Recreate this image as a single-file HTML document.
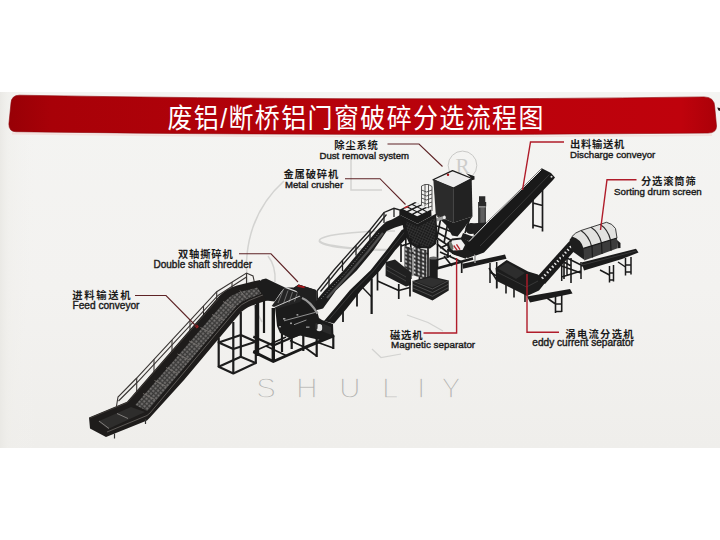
<!DOCTYPE html>
<html lang="zh">
<head>
<meta charset="utf-8">
<title>废铝/断桥铝门窗破碎分选流程图</title>
<style>
html,body{margin:0;padding:0;background:#fff;}
body{width:720px;height:540px;overflow:hidden;position:relative;font-family:"Liberation Sans","Noto Sans CJK SC",sans-serif;}
svg{position:absolute;left:0;top:0;display:block;}
.cn{font-family:"Liberation Sans","Noto Sans CJK SC",sans-serif;font-weight:700;font-size:10.3px;fill:#1a1a1a;letter-spacing:0.8px;}
.en{font-family:"Liberation Sans","Noto Sans CJK SC",sans-serif;font-size:9.6px;fill:#1c1c1c;stroke:#1c1c1c;stroke-width:0.4px;}
.ttl{font-family:"Liberation Sans","Noto Sans CJK SC",sans-serif;font-weight:400;font-size:25px;fill:#fff;}
.wm{font-family:"Liberation Sans",sans-serif;font-size:30px;fill:#b4b4b2;stroke:#f1f0ed;stroke-width:1.35px;font-weight:400;}
.ld{fill:none;stroke:#5e2326;stroke-width:1.1;}
.ldr{fill:none;stroke:#b01c2a;stroke-width:1.4;}
</style>
</head>
<body>
<svg id="art" width="720" height="540" viewBox="0 0 720 540">
<defs>
<linearGradient id="bg" x1="0" y1="0" x2="0" y2="1">
<stop offset="0" stop-color="#f4f4f2"/><stop offset="0.55" stop-color="#f3f2f0"/><stop offset="1" stop-color="#efeeeb"/>
</linearGradient>
<linearGradient id="bgl" x1="0" y1="0" x2="1" y2="0">
<stop offset="0" stop-color="#e9e8e4" stop-opacity="0.9"/><stop offset="0.012" stop-color="#efeeea" stop-opacity="0.5"/><stop offset="0.05" stop-color="#f3f2f0" stop-opacity="0"/><stop offset="1" stop-color="#f3f2f0" stop-opacity="0"/>
</linearGradient>
<linearGradient id="red" x1="0" y1="0" x2="1" y2="0">
<stop offset="0" stop-color="#980006"/><stop offset="0.06" stop-color="#a80108"/><stop offset="0.5" stop-color="#b7020b"/><stop offset="0.95" stop-color="#bf020c"/><stop offset="1" stop-color="#ab0109"/>
</linearGradient>
<pattern id="mesh" width="3" height="3" patternUnits="userSpaceOnUse" patternTransform="rotate(41) scale(1.15)">
<rect x="0.3" y="0.3" width="1.7" height="1.7" fill="#7b7977"/>
</pattern>
<pattern id="mesh2" width="2.6" height="2.6" patternUnits="userSpaceOnUse" patternTransform="rotate(25)">
<rect x="0" y="0" width="2.6" height="0.6" fill="#4f4f4f"/><rect x="0" y="0" width="0.6" height="2.6" fill="#4f4f4f"/>
</pattern>
<pattern id="cage" width="4.3" height="4" patternUnits="userSpaceOnUse" patternTransform="skewY(20)">
<rect x="0.6" y="0.6" width="2.2" height="2" fill="#e6e6e6"/>
</pattern>
</defs>
<!-- photo background -->
<rect x="0" y="92" width="720" height="356" fill="url(#bg)"/>
<rect x="0" y="92" width="720" height="356" fill="url(#bgl)"/>
<!-- BANNER -->
<g id="banner">
<path d="M11,103 Q11.500,95.100 19.500,95.200 Q380,101.500 704,96.900 Q714.500,97 714.700,107 L716.500,126 Q716.700,133 708,133.100 Q360,136.500 16,131.800 Q8.800,131.500 8.900,124 Z" fill="url(#red)" stroke="#8d0207" stroke-width="0.6"/>
<path d="M12,132.500 Q360,138 712,134.200 L712,136 Q360,139.500 12,134.500 Z" fill="#f3d9d6" opacity="0.7"/>
<path d="M717.300,107.500 L720,108 L720,111 L718.200,110.300 Z" fill="#2a1a1a"/>
<text class="ttl" x="167.5" y="128.4" transform="matrix(1 0 0 1.07 0 -8.988)" style="letter-spacing:1.37px">废铝/断桥铝门窗破碎分选流程图</text>
</g>
<!-- WATERMARK -->
<g id="wm">
<g fill="none" stroke="#d3d3d1" stroke-width="1.5">
<path d="M284,181 A113,113 0 0 0 262,322"/>
<path d="M351,155 V190 H382"/>
<path d="M395,231 A76,9.500 0 0 0 319.500,241" stroke-width="1.600"/>
<path d="M319.500,241 A76,9.500 0 0 0 395,250" stroke-width="2.400"/>
<path d="M268,256 Q276,266 275,282"/>
<path d="M372,349 L381,357.500 L401,354" stroke-width="1.2"/>
<path d="M407,315 L428,322.500 L443,331" stroke-width="1.2"/>
<circle cx="462.5" cy="165.400" r="14.300" stroke="#c9c9c7" stroke-width="1"/>
</g>
<text x="455.500" y="172.500" style="font-family:'Liberation Serif',serif;font-size:21px;fill:#cdcdcb">R</text>
<text class="wm" x="256" y="397.5">S</text><text class="wm" x="296" y="397.5">H</text><text class="wm" x="339" y="397.5">U</text><text class="wm" x="382" y="397.5">L</text><text class="wm" x="417" y="397.5">I</text><text class="wm" x="441" y="397.5">Y</text>
</g>
<!-- MACHINES -->
<g id="machines">
<!-- FEED CONVEYOR -->
<g id="feed">
<!-- support tower (behind) -->
<g fill="none" stroke="#1d1d1d" stroke-width="2.2" stroke-linejoin="round">
<path d="M218.7,338 V367 M233.3,322 V374 M240.8,312 V357 M255.8,305 V363.5"/>
<path d="M218.7,342.5 L233.3,349 L255.8,341.7 L240.8,335 Z"/>
<path d="M218.7,366.7 L233.3,373.5 L255.8,363 L240.8,356.7 Z"/>
</g>
<!-- handrail -->
<g fill="none" stroke="#3a3634" stroke-width="1.1">
<path d="M116.5,406 L118,397 L136.7,378 L216.7,291.7 L246.5,273 L253,276 L255,285"/>
<path d="M118.5,401 L138,381.5 L218,295.5 L246.5,277"/>
<path d="M136.7,378 V392 M154,359.5 V373.5 M172,340 V354 M190,320.5 V334 M203.5,306 V318 M216.7,291.7 V301 M232,282 V289.5 M246.5,273 V284"/>
</g>
<!-- body silhouette -->
<path d="M89,417.5 L127,401.7 L218.700,296.5 Q227,288.5 237,285.5 L253,281.5 L260,280 L267,288 L268.500,300 L252,305.500 Q243.500,309 239.500,314 L184,380 L150,417.5 L147,420.5 L106,437 L90,428.5 Z" fill="#1e1c1b"/>
<!-- bed (mesh) -->
<path transform="translate(1.3,1.1)" d="M134,404 L223.5,300.5 Q230,293.5 240,290.5 L256,286.5 L260,292.5 L246,298 Q238,301.5 233,307.5 L146,410 Z" fill="#3b3a39"/>
<path transform="translate(1.3,1.1)" d="M134,404 L223.5,300.5 Q230,293.5 240,290.5 L256,286.5 L260,292.5 L246,298 Q238,301.5 233,307.5 L146,410 Z" fill="url(#mesh)"/>
<!-- foot bed -->
<path d="M98,421.5 L131,407 L145,412 L108,429 Z" fill="#2e2d2c"/>
<!-- cleats -->
<g stroke="#77736f" stroke-width="0.9" fill="none">
<path d="M143,393.5 L155,399.5 M154.5,380.5 L166.5,386.5 M166,367.5 L178,373.5 M177.5,354 L189.5,360 M189,341 L201,347 M200.5,327.5 L212.5,333.5 M212,314.5 L224,320.5 M223,301.5 L235,308 M240,290.5 L246,298"/>
<path d="M117,413.5 L128,418.5 M99,421 L109,428.5" stroke="#8a8784"/>
</g>
<!-- near wall highlight -->
<path d="M107,432 L147,415.5 L150,413 L236,310 Q241,304 249,300.5 L264,294.5" fill="none" stroke="#6b6763" stroke-width="0.8"/>
<path d="M90,418 L127.500,402.5 L219.500,297.5" fill="none" stroke="#4a4541" stroke-width="0.7"/>
<rect id="feedmark" x="195.500" y="325" width="2.800" height="2.800" fill="#a3181c" transform="rotate(-40 197 326.500)"/>
<!-- feet -->
<path d="M145.5,419 V424 M114.5,433.5 V438.5" stroke="#333" stroke-width="1.2"/>
<!-- chute to shredder -->
<path d="M257.500,285.500 L261.700,279.500 L266,278.500 L285,287.500 L281,292 L274.500,301.500 L266,300.500 Z" fill="#1c1c1c"/>
</g>

<!-- SHREDDER -->
<g id="shredder">
<!-- base frame -->
<g fill="none" stroke="#191919" stroke-linejoin="round">
<path stroke-width="3.4" d="M257.5,303 V356 M273.3,308 V361"/>
<path stroke-width="2.2" d="M264,301 V333 M291.7,331 V349 M303.3,333 V351 M316.7,336 V357 M333.3,335 V349 M282,333 V352"/>
<path stroke-width="3" d="M253.3,351.7 L273.3,361.5 L305,347.5 L334,335.5"/>
<path stroke-width="2.4" d="M253.3,336.7 L273.3,345.5 L305,332"/>
<path stroke-width="1.8" d="M253.3,351.7 L286,337 M286,355.5 L266,346 M305,347.5 L290,340.5 M316.7,356 L305,347.5 M316.7,342 L333.3,348"/>
</g>
<!-- body -->
<path d="M275,307 L285,287.500 L294,287.400 L298.700,284.500 L316,290 L317,311 L319,318 L322,320 L333,324 L333.5,337 L322,340.5 L300,335.5 L290,338.5 L280,333 L277,326 L276,316 Z" fill="#1b1b1b"/>
<path d="M271.7,306 L285,287.500 L305,294.300 L300,302 L278,308.5 Z" fill="#242424"/>
<!-- hopper streaks -->
<g stroke="#8d8d8d" stroke-width="0.7" fill="none">
<path d="M283.5,289 L278,303 M288,290.5 L283.5,303.5 M292.5,292 L289,302.5 M297,293.5 L294.5,301.5"/>
<path d="M274,307.400 L303,294.700" stroke="#c9c9c9" stroke-width="1"/>
<path d="M285.300,287.400 L303,294" stroke="#d5d5d5" stroke-width="1.300"/>
</g>
<!-- back box -->
<path d="M294,287.400 L298.700,284.500 L316,290 L317,312 L305,303 Z" fill="#202020"/>
<path d="M298,284.8 L305,286.4 L304.3,288.3 L297.3,286.7 Z" fill="#a3181c"/>
<!-- duct -->
<path d="M302,298 Q310,301 317.600,313.600" fill="none" stroke="#9a9a9a" stroke-width="2.4"/>
<!-- inner light details -->
<g fill="#9a9a9a">
<rect x="283" y="318" width="2.4" height="1.6"/><rect x="290" y="322.5" width="2" height="1.6"/><rect x="296.5" y="314" width="1.8" height="1.6"/>
<rect x="279" y="326" width="2" height="1.4"/><rect x="306" y="326.5" width="3.5" height="1.3"/>
</g>
<path d="M284,320.800 L315.300,312.400 M294,324.700 L306.400,320" fill="none" stroke="#b0b0b0" stroke-width="0.8"/>
<!-- motor -->
<ellipse cx="319.3" cy="327.6" rx="3.3" ry="3.6" fill="#e2e2e2"/>
<path d="M322,323.2 L331,327 L331.5,335 L322.5,331.6 Z" fill="#2a2a2a"/>
<ellipse cx="316.4" cy="326.4" rx="1.2" ry="3.3" fill="#2b2b2b"/>
</g>

<!-- SECOND CONVEYOR (shredder -> crusher) -->
<g id="conv2">
<!-- legs of lower beam -->
<g fill="none" stroke="#1b1b1b" stroke-width="1.8">
<path d="M357,291 V306.500 M371.700,279 V314 M343,309 V322"/>
<path d="M362,287 L371.700,297" stroke-width="1.400"/>
</g>
<!-- handrail -->
<g fill="none" stroke="#222" stroke-width="1.300">
<path d="M317.500,299 L317,291 L334,270 L351.700,250 L370,230 L384,212.500 L394,208.300 L400,210 L400,216"/>
<path d="M320.500,291.500 L337.500,270.500 L355,250.500 L373.300,230.500 L386.500,214.500"/>
<path d="M317,291 V300 M329,276.500 V287 M342.500,260.500 V271 M356,245.500 V255.500 M370,230 V240 M384,212.500 V223 M394,208.300 V217"/>
</g>
<!-- upper band -->
<path d="M315,302 L325,290 L344,270 L360.800,250 L377.500,230 L386,221.700 L392,219.500 L400,215 L406,224 L395,227.500 L386.700,231 L373.300,250.500 L356.700,270.500 L336,290.500 L323,308.500 L317,310 Z" fill="#1c1c1c"/>
<path d="M321,299 L345.500,273 L362,253 L379,233" fill="none" stroke="#8a8a8a" stroke-width="0.9" stroke-dasharray="1 1.800"/>
<path d="M327,298 L351,271.500 L368,251.500 L383,233" fill="none" stroke="#4c4c4c" stroke-width="2.200"/>
<!-- lower beam -->
<path d="M324,321 L335,308 L350,290 L370.800,270 L386.700,250 L401.700,230 L410,226.500 L413.500,231 L406.500,238 L395,250.500 L380,270.500 L361,290.500 L346.700,308.500 L334,323.500 Z" fill="#1a1a1a"/>
<path d="M329,319.500 L353,291.500 L373.500,271 L389.500,251 L405,231.500" fill="none" stroke="#4a4a4a" stroke-width="0.600"/>
</g>

<!-- CRUSHER + DUST COLLECTOR + UNDER STRUCTURE -->
<g id="crusher">
<!-- ladder cage -->
<g fill="none" stroke="#3c3c3c" stroke-width="0.85">
<path d="M421.5,186 V208 M425,184.5 V206 M428.5,184.5 V209 M432,186.5 V211 M421.5,186 L425,184.500 L428.5,184.500 L432,186.5 M421.5,190 L426.5,192 L432,190 M421.5,194 L426.5,196 L432,194 M421.5,198 L426.5,200 L432,198 M421.5,202 L426.5,204 L432,202 M421.5,206 L426.5,208 L432,206"/>
</g>
<!-- chimney cylinder -->
<rect x="478.2" y="206" width="7.8" height="19" fill="#5f5f5f"/>
<rect x="478.2" y="206" width="2.2" height="19" fill="#3a3a3a"/>
<rect x="484.5" y="206" width="1.5" height="19" fill="#444"/>
<path d="M479,196.3 h6.300 v5.700 h0.900 v4.500 h-8.100 v-4.500 h0.900 z" fill="#2a2a2a"/>
<rect x="478.8" y="206" width="6.800" height="1.600" fill="#8a8a8a"/>
<!-- blower -->
<circle cx="471" cy="228.5" r="5.6" fill="#1f1f1f"/>
<path d="M470,223.5 L486,222.500 L488,226 L486,232.500 L474,235.500 Z" fill="#202020"/>
<path d="M463,233 L478,238.500 L474,243 L461,238 Z" fill="#1e1e1e"/>
<!-- dust collector box -->
<path d="M433,179.75 L452.5,170.6 L472,178.5 L453.5,188.2 Z" fill="#ededed" stroke="#1c1c1c" stroke-width="1.3" stroke-linejoin="round"/>
<circle cx="448" cy="174.8" r="1.2" fill="#a3181c"/>
<path d="M433.3,179 L453.3,188.3 L453.3,222.7 L435.8,215 Z" fill="#2b2b2b"/>
<path d="M453.3,188.3 L471.7,178.3 L472.5,216.5 L453.3,222.7 Z" fill="#222"/>
<path d="M453.3,188.3 V222.700" stroke="#3d3d3d" stroke-width="0.6"/>
<path d="M466,173.200 L474.500,176.300 L474.500,179.500 L471,180.500 L471.7,178.3 Z" fill="#1c1c1c"/>
<!-- hopper -->
<path d="M435.8,215 L453.3,222.7 L472.5,216.5 L464.5,227.500 L457.500,236.500 L452,235.500 L447,226 Z" fill="#1e1e1e"/>
<path d="M441,217 L436.5,240 M448,222 L444,243 M469.500,219 L465,233" stroke="#1c1c1c" stroke-width="1.700" fill="none"/>
<!-- radiating beams right of crusher -->
<g fill="none" stroke="#1b1b1b" stroke-width="1.700">
<path d="M437,226 L452,232 M437.5,232.5 L452,241 M437,238 L449,246 M440,248 L451,243 M437,244 L447,252"/>
</g>
<!-- pipe -->
<path d="M436,220 L444,217.500" stroke="#9c9c9c" stroke-width="3.400" fill="none"/>
<ellipse cx="444.400" cy="217.400" rx="1.400" ry="1.900" fill="#ececec"/>
<!-- crusher body -->
<path d="M400,215 L417.500,223.750 L436,213.750 L437.500,232.500 L436,244 L430,248.500 L416,248 L409,243 L404,232 L402,221 Z" fill="#1b1b1b"/>
<path d="M406,221.500 L418,227 L435,218 L435.500,232 L434,243 L429,246.500 L417,246 L411,241.500 L407,231 Z" fill="url(#mesh2)" opacity="0.55"/>
<!-- crusher top grid -->
<path d="M400,209.400 L415,201.900 L431.250,210 L431.500,216 L417.500,223.750 L400,215 Z" fill="#1a1a1a"/>
<g fill="#ededed">
<path d="M403.2,209.300 L407,207.400 L410.600,209.200 L406.800,211.100 Z"/>
<path d="M408.200,206.800 L412,204.900 L415.600,206.700 L411.800,208.600 Z"/>
<path d="M413.200,204.300 L417,202.800 L420.600,204.500 L416.800,206.200 Z"/>
<path d="M408.400,211.900 L412.200,210 L415.800,211.800 L412,213.700 Z"/>
<path d="M413.400,209.400 L417.200,207.500 L420.800,209.300 L417,211.200 Z"/>
<path d="M418.400,206.900 L422.200,205.200 L425.800,207 L422,208.800 Z"/>
<path d="M413.600,214.500 L417.400,212.600 L421,214.400 L417.200,216.300 Z"/>
<path d="M418.600,212 L422.400,210.100 L426,211.900 L422.200,213.800 Z"/>
<path d="M423.600,209.500 L427.400,207.800 L431,209.600 L427.200,211.400 Z"/>
</g>
<path d="M403.5,207.600 L407.500,205.700 L409.500,206.600 L405.500,208.600 Z" fill="#b42a2e"/>
<!-- frame posts under crusher -->
<g fill="none" stroke="#191919" stroke-width="1.700">
<path d="M405.800,236 V276 M410.800,238 V279 M428,247 V278 M419.500,244 V282 M437.500,240 V268 M401,244 V262"/>
<path d="M401,246 L410.800,243 M405.800,250 L419.500,256 M419.500,250 L428,254"/>
</g>
<!-- mesh cages -->
<path d="M404.500,246 L412.500,248 L412.500,276 L404.500,273 Z" fill="#2a2a2a"/>
<path d="M404.500,246 L412.500,248 L412.500,276 L404.500,273 Z" fill="url(#cage)" opacity="0.75"/>
<path d="M413.500,247 L426.500,250 L426.500,279 L413.500,275.500 Z" fill="#2a2a2a"/>
<path d="M413.500,247 L426.500,250 L426.500,279 L413.500,275.500 Z" fill="url(#cage)"/>
<!-- dark cylinder -->
<rect x="429.3" y="257.500" width="8.400" height="22.500" rx="1.5" fill="#1d1d1d"/>
<ellipse cx="433.500" cy="258" rx="4.200" ry="1.500" fill="#666"/>
<!-- bins -->
<path d="M385.600,262 L395,259.500 L411,272.500 L411,285 L406,286.500 L385.600,276 Z" fill="#202020"/>
<path d="M386.500,266 L406,277 M386.500,270 L406,281" stroke="#555" stroke-width="0.6" fill="none"/>
<path d="M412.500,281 L430,276 L448.750,280.500 L448.750,290.500 L432.500,300.500 L412.500,291.500 Z" fill="#1f1f1f"/>
<path d="M412.500,281 L432.500,289 L448.750,280.500 M413,284.500 L432.500,292.600 L448.750,284 M413,288 L432.500,296.300 L448.750,287.500" stroke="#6a6a6a" stroke-width="0.6" fill="none"/>
<path d="M415.500,281.200 L430,277.500 L445.500,281 L432.500,287.300 Z" fill="#303030"/>
<!-- frame legs / base -->
<g fill="none" stroke="#191919" stroke-width="1.7" stroke-linejoin="round">
<path d="M377.500,272 V290.500 M398.750,284 V299 M410,282 V296.500 M371.500,278 V314"/>
<path d="M377.500,281 L398.750,290.500 L410,287.500"/>
</g>
<!-- platform beams near magnetic drum -->
<g fill="none" stroke="#1a1a1a" stroke-linejoin="round">
<path stroke-width="2.4" d="M436.7,268.5 L473,258.5"/>
<path stroke-width="1.7" d="M437,260 L451,255.5 M440,252 L462,262 M461.7,261 V273 M448,249 V258 M444,256 L452,266 M452,253 L466,258"/>
</g>
<!-- magnetic drum -->
<path d="M447,243 L452,238.500 L462,237.500 L476,245 L476,255 L468,258 L455,255 L448,251 Z" fill="#1d1d1d"/>
<path d="M452,240.600 L461,239.400 L465,245 L462.500,250 L453,250.600 L450,246 Z" fill="#f1f1f1"/>
<path d="M453.700,245.500 L457.200,250.300 M456.500,244.300 L460,249.700" stroke="#b3242a" stroke-width="1.300"/>
<ellipse cx="451.200" cy="245.700" rx="1.700" ry="4.200" fill="#6a7068" transform="rotate(-18 451.2 245.7)"/>
<!-- small conveyor to eddy -->
<path d="M462.500,263.750 L505,254.400 L506.500,258.750 L463,268.750 Z" fill="#1b1b1b"/>
<path d="M475,251 V263" stroke="#9a9a9a" stroke-width="1.500"/>
<path d="M490,263 V283 M496.7,262 V288 M490,272 L496.7,276" stroke="#1b1b1b" stroke-width="1.5" fill="none"/>
</g>

<!-- DISCHARGE CONVEYOR -->
<g id="discharge">
<g fill="none" stroke="#1b1b1b" stroke-width="1.7">
<path d="M533,193 V228.5 M542.5,189 V231.5 M533,203 L542.5,205.5 M533,225 L542.5,227.5"/>
</g>
<path d="M466,248 L468,241.500 L489,220 L530,180 L541.7,168.3 L551,173 L555,177.5 L553,180 L484,252.500 L476,255.500 Z" fill="#191919"/>
<path d="M469,241.500 L489.500,220.500 L530.500,180.500 L541.300,169.700" stroke="#ececec" stroke-width="1" fill="none"/>
<path d="M480,246 L549.500,174.500" stroke="#454545" stroke-width="0.700" fill="none"/>
<circle cx="551.5" cy="176.8" r="1" fill="#ddd"/>
</g>

<!-- EDDY CURRENT SEPARATOR -->
<g id="eddy">
<!-- legs -->
<g fill="none" stroke="#1a1a1a" stroke-width="1.6">
<path d="M496.7,278 V288.5 M506,284 V293.5 M514,288 V297.5 M525,292 V302 M489,268 L496.7,280"/>
<path d="M555.5,296 V313 M561.7,294.5 V312 M555.5,304 H561.7 M555.5,311.5 H561.7 M547,298 L555.5,304"/>
<path d="M564,262 V279 M571,258 V283 M564,262 L571,266" />
</g>
<!-- main body -->
<path d="M495.5,268 L506.7,260 L528,271.5 L538,274.5 L545,283 L539,290.5 L527,296 L496.7,281 Z" fill="#1c1c1c"/>
<path d="M498,268.5 L507,262.5 L525,273 L516,279 Z" fill="#2d2d2d"/>
<path d="M497,272 L526.5,287 L538,281" stroke="#4a4a4a" stroke-width="0.6" fill="none"/>
<!-- inclined ladder conveyor -->
<path d="M536.5,277.5 L569.5,241 L576.5,248.5 L545,284 Z" fill="#1b1b1b"/>
<path d="M542,278.5 L572,245.5" stroke="#e4e4e4" stroke-width="2.6" stroke-dasharray="1.5 2.3" fill="none"/>
<!-- output conveyor -->
<path d="M527,296.5 L570,289 L572.5,293.5 L530,302.5 Z" fill="#1b1b1b"/>
</g>

<!-- DRUM SCREEN -->
<g id="drum">
<!-- frame -->
<g fill="none" stroke="#1a1a1a" stroke-width="1.5" stroke-linejoin="round">
<path d="M561.7,254 V281 M567,257 V275 M581,262 V279 M561.7,266 L581,273 M561.7,277 L581,271 M567,258 L583,266"/>
<path d="M609.5,266 V282.5 M613.5,265 V281.5 M609.5,273 H613.5 M609.5,280 H613.5 M625.5,258 V275.5 M631,257 V274.5 M625.5,265 H631 M625.5,272 H631"/>
<path d="M600,270 L609.5,275 M618,262 L625.5,267"/>
</g>
<!-- left end -->
<path d="M569.5,240 L572,236.5 L578,233 L584,246 L584.5,260 L572,251 Z" fill="#1e1e1e"/>
<!-- cover -->
<path d="M572,236.5 Q575,232.5 581,230.5 L606.5,222.3 Q612.5,223.5 615.5,228.5 L617,238 L583.5,248.3 Q581,239 572,236.5 Z" fill="#e2e2e0"/>
<path d="M581,230.500 Q589,236 591.5,246 M591,227.3 Q599,232.5 601.5,243 M600,224.3 Q608,229.5 610.5,240" stroke="#2a2a2a" stroke-width="1.1" fill="none"/>
<path d="M572,236.5 Q575,232.5 581,230.5 L606.5,222.3 Q612.5,223.5 615.5,228.5 L617,238" stroke="#2a2a2a" stroke-width="0.9" fill="none"/>
<!-- front panel -->
<path d="M583.5,248.3 L617,238 L617.6,248.3 L584.3,260.5 Z" fill="#3c3c3c"/>
<path d="M583.5,248.3 L617,238" stroke="#191919" stroke-width="1.3" fill="none"/>
<path d="M592,246 L592.5,257.5 M601.5,243 L602,254 M610.5,240 L611,250.700" stroke="#1b1b1b" stroke-width="1.2" fill="none"/>
<path d="M617,240 L620.5,243 L620.5,248 L617.6,248.3 Z" fill="#1e1e1e"/>
<!-- output conveyors -->
<path d="M581.5,262.5 L636,248.8 L638.5,252.5 L622,259 L584,270.5 Z" fill="#1b1b1b"/>
<path d="M583,264.8 L636,251" stroke="#4c4c4c" stroke-width="0.6" fill="none"/>
</g>


</g>
<!-- LEADERS -->
<g id="leaders">
<path class="ld" d="M387.5,144 H419 L442.5,166.500"/>
<path class="ld" d="M345,178.7 H380 L405.500,204.500"/>
<path class="ld" d="M239,253.8 H271 L298,282"/>
<path class="ld" d="M135,295.5 H166 L197,327"/>
<path class="ldr" d="M564,142 H530.5 L522.5,190"/>
<path class="ldr" d="M636.500,179.700 H607 L600.500,230"/>
<path class="ldr" d="M423.5,333 H456.600 V258"/>
<path class="ldr" d="M559,332.3 H527 V274"/>
</g>
<!-- LABELS -->
<g id="labels">
<text class="cn" x="334.3" y="149.2">除尘系统</text>
<text class="en" x="319.5" y="158.6">Dust removal system</text>
<text class="cn" x="283.5" y="177.6">金属破碎机</text>
<text class="en" x="285" y="187.6">Metal crusher</text>
<text class="cn" x="178" y="258.3">双轴撕碎机</text>
<text class="en" x="153.5" y="268.3" style="font-size:10.03px">Double shaft shredder</text>
<text class="cn" x="72.3" y="299" style="letter-spacing:1.7px">进料输送机</text>
<text class="en" x="72.5" y="309.3" style="font-size:10.15px">Feed conveyor</text>
<text class="cn" x="570" y="148.3" style="letter-spacing:0.7px">出料输送机</text>
<text class="en" x="570" y="158.3" style="font-size:9.67px">Discharge conveyor</text>
<text class="cn" x="641" y="184.5">分选滚筒筛</text>
<text class="en" x="614" y="194.6" style="font-size:9.75px">Sorting drum screen</text>
<text class="cn" x="390" y="338.8">磁选机</text>
<text class="en" x="391" y="347.6" style="font-size:9.84px">Magnetic separator</text>
<text class="cn" x="565.3" y="338.3" style="letter-spacing:1.3px">涡电流分选机</text>
<text class="en" x="532.3" y="346.4" style="font-size:10.1px">eddy current separator</text>
</g>
</svg>
</body>
</html>
